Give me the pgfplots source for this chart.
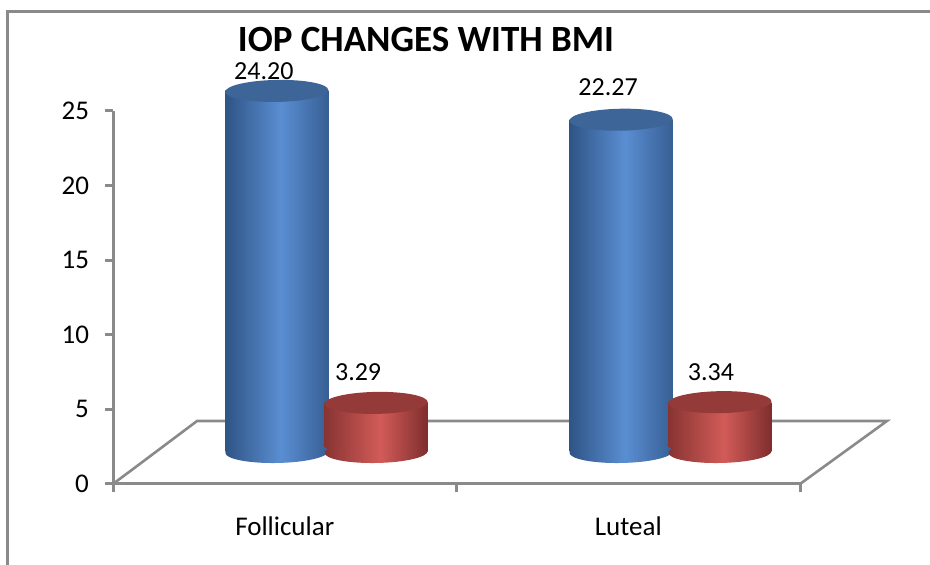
\documentclass[border=0pt]{standalone}
\usepackage{pgfplots}
\pgfplotsset{compat=1.18}
\usepackage{fontspec}
\setmainfont{Carlito}

\definecolor{axgray}{HTML}{8A8A8A}
\definecolor{bL}{HTML}{2F5486}
\definecolor{bM}{HTML}{5A8ED2}
\definecolor{bR}{HTML}{375F94}
\definecolor{topB}{HTML}{3D6598}
\definecolor{rL}{HTML}{883432}
\definecolor{rM}{HTML}{D25B58}
\definecolor{rR}{HTML}{7E2E2D}
\definecolor{topR}{HTML}{943B39}

\pgfdeclarehorizontalshading{cylblue}{100bp}{color(0bp)=(bL); color(25bp)=(bL); color(52bp)=(bM); color(75bp)=(bR); color(100bp)=(bR)}
\pgfdeclarehorizontalshading{cylred}{100bp}{color(0bp)=(rL); color(25bp)=(rL); color(52bp)=(rM); color(75bp)=(rR); color(100bp)=(rR)}

\pgfdeclareplotmark{botblue}{%
  \pgfpathellipse{\pgfpointorigin}{\pgfpoint{25.75pt}{0.45pt}}{\pgfpoint{-0.1pt}{5.5pt}}%
  \pgfshadepath{cylblue}{0}\pgfusepath{discard}}
\pgfdeclareplotmark{botred}{%
  \pgfpathellipse{\pgfpointorigin}{\pgfpoint{25.75pt}{0.45pt}}{\pgfpoint{-0.1pt}{5.5pt}}%
  \pgfshadepath{cylred}{0}\pgfusepath{discard}}
\pgfdeclareplotmark{topblue}{%
  \pgfpathellipse{\pgfpointorigin}{\pgfpoint{25.75pt}{0.45pt}}{\pgfpoint{-0.1pt}{5.5pt}}%
  \pgfsetfillcolor{topB}\pgfusepath{fill}}
\pgfdeclareplotmark{topred}{%
  \pgfpathellipse{\pgfpointorigin}{\pgfpoint{25.75pt}{0.45pt}}{\pgfpoint{-0.1pt}{5.5pt}}%
  \pgfsetfillcolor{topR}\pgfusepath{fill}}

\begin{document}
\begin{tikzpicture}
\useasboundingbox (0,0) rectangle (465pt,282.5pt);
\draw[axgray, line width=1.5pt] (3.75pt,-5pt) -- (3.75pt,276.5pt) -- (480pt,276.5pt);
\node[font=\fontsize{18.5}{22}\selectfont\bfseries] at (213pt,262.5pt) {IOP CHANGES WITH BMI};

% main axis (frame, ticks, floor)
\begin{axis}[
  at={(56.5pt,40.5pt)}, anchor=south west,
  scale only axis, width=343.5pt, height=186.5pt,
  xmin=0.5, xmax=2.5, ymin=0, ymax=25,
  ytick={0,5,10,15,20,25},
  xtick={0.5,1.5,2.5}, xticklabels={,,},
  extra x ticks={1,2}, extra x tick labels={Follicular,Luteal},
  extra x tick style={major tick length=0pt, tick label style={yshift=-13pt}},
  yticklabel style={xshift=-4.5pt},
  axis x line*=bottom, axis y line*=left,
  axis line style={color=axgray, line width=1.5pt, -},
  tick style={color=axgray, line width=1.5pt},
  tick align=outside, major tick length=4pt,
  tick label style={font=\fontsize{13.5}{15}\selectfont},
  /pgf/number format/assume math mode=true,
  clip=false,
]
\draw[axgray, line width=1.3pt] (axis cs:0.5,0) -- (axis cs:0.7445,4.22) -- (axis cs:2.753,4.22) -- (axis cs:2.5,0);
\end{axis}

% bars axis (shifted for depth)
\begin{axis}[
  at={(56.5pt,40.5pt)}, anchor=south west,
  scale only axis, width=343.5pt, height=186.5pt,
  xmin=0.5, xmax=2.5, ymin=-2.145, ymax=22.855,
  hide axis, clip=false,
  /pgf/number format/assume math mode=true,
  nodes near coords={\pgfmathprintnumber[fixed,fixed zerofill,precision=2]{\pgfplotspointmeta}},
  every node near coord/.append style={anchor=center, font=\fontsize{13}{15}\selectfont, text=black},
]
% blue series
\addplot[only marks, mark=botblue, nodes near coords=] coordinates {(0.977,0) (1.979,0)};
\addplot[ybar, bar width=51.5pt, bar shift=0pt, draw=none, shade, shading=cylblue, nodes near coords=] coordinates {(0.977,24.20)};
\addplot[ybar, bar width=51.5pt, bar shift=0pt, draw=none, shade, shading=cylblue, nodes near coords=] coordinates {(1.979,22.27)};
\addplot[only marks, mark=topblue, nodes near coords=] coordinates {(0.977,24.20) (1.979,22.27)};
% red series
\addplot[only marks, mark=botred, nodes near coords=] coordinates {(1.266,0) (2.267,0)};
\addplot[ybar, bar width=51.5pt, bar shift=0pt, draw=none, shade, shading=cylred, nodes near coords=] coordinates {(1.266,3.29)};
\addplot[ybar, bar width=51.5pt, bar shift=0pt, draw=none, shade, shading=cylred, nodes near coords=] coordinates {(2.267,3.34)};
\addplot[only marks, mark=topred, nodes near coords=] coordinates {(1.266,3.29) (2.267,3.34)};
% value labels
\addplot[draw=none, mark=none, every node near coord/.append style={xshift=-6.5pt, yshift=10pt}] coordinates {(0.977,24.20)};
\addplot[draw=none, mark=none, every node near coord/.append style={xshift=-6.5pt, yshift=16.5pt}] coordinates {(1.979,22.27)};
\addplot[draw=none, mark=none, every node near coord/.append style={xshift=-9pt, yshift=15.5pt}] coordinates {(1.266,3.29)};
\addplot[draw=none, mark=none, every node near coord/.append style={xshift=-4.5pt, yshift=15pt}] coordinates {(2.267,3.34)};
\end{axis}
\end{tikzpicture}
\end{document}
